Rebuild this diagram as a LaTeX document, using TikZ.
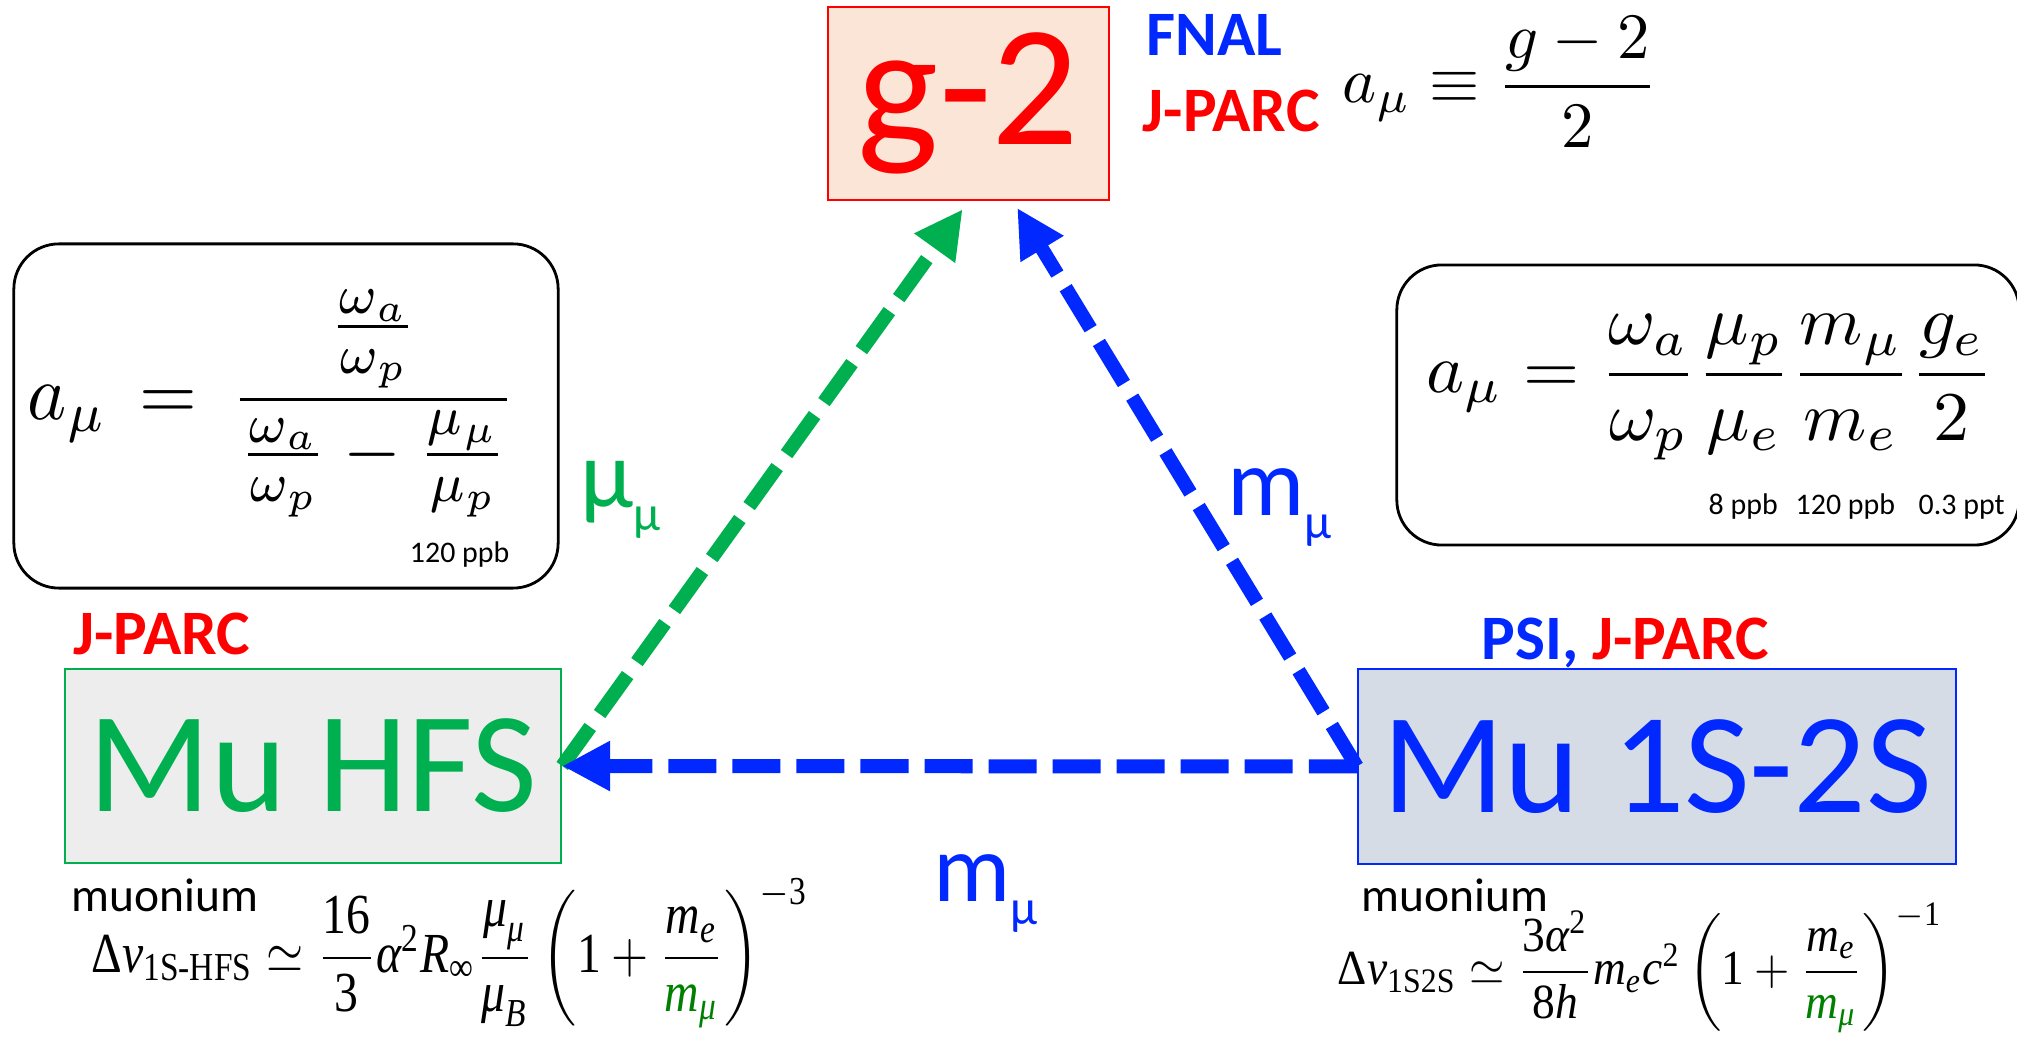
\documentclass[tikz,border=0pt]{standalone}
\usepackage{amsmath,amssymb}
\usepackage[no-math]{fontspec}
\setmainfont{Carlito}
\newfontfamily\tms{Liberation Serif}
\usepackage{tikz}
\usetikzlibrary{arrows.meta,positioning,calc}
\definecolor{gtwofill}{RGB}{251,229,214}
\definecolor{hfsfill}{RGB}{237,237,237}
\definecolor{lsfill}{RGB}{214,220,229}
\definecolor{mgreen}{RGB}{0,176,80}
\definecolor{mblue}{RGB}{0,40,255}
\definecolor{mred}{RGB}{255,0,0}
\definecolor{fgreen}{RGB}{0,128,0}
\newcommand{\tmi}[1]{\text{\tms\itshape #1}}
\newcommand{\tmr}[1]{\text{\tms\upshape #1}}
\newcommand{\lsub}[1]{\raisebox{-6.5pt}{\fontsize{14}{14}\selectfont #1}}
\tikzset{
  basebox/.style={rectangle,inner sep=0pt,align=center},
  g2box/.style={basebox,draw=mred,line width=0.6pt,fill=gtwofill,text=mred,minimum width=2.81cm,minimum height=1.93cm,font=\fontsize{49}{50}\selectfont},
  hfsbox/.style={basebox,draw=mgreen,line width=0.6pt,fill=hfsfill,text=mgreen,minimum width=4.96cm,minimum height=1.94cm,font=\fontsize{40.7}{42}\selectfont},
  lsbox/.style={basebox,draw=mblue,line width=0.6pt,fill=lsfill,text=mblue,minimum width=5.98cm,minimum height=1.95cm,font=\fontsize{40.7}{42}\selectfont},
  eqbox/.style={basebox,draw=black,line width=0.8pt,rounded corners=0.45cm},
  orglabel/.style={inner sep=0pt,font=\fontsize{18}{20}\selectfont\bfseries},
  ppblabel/.style={inner sep=0pt,anchor=base west,font=\fontsize{8.5}{10}\selectfont},
  mulabel/.style={inner sep=0pt,anchor=base west,font=\fontsize{13.5}{15}\selectfont},
  qlabel/.style={inner sep=0pt,anchor=base west,font=\fontsize{27.5}{28}\selectfont},
  greenarr/.style={-{Triangle[length=0.48cm,width=0.47cm]},line width=0.14cm,color=mgreen,dash pattern=on 0.48cm off 0.16cm},
  bluearr/.style={-{Triangle[length=0.48cm,width=0.47cm]},line width=0.14cm,color=mblue,dash pattern=on 0.48cm off 0.16cm}
}
\begin{document}
\begin{tikzpicture}[x=0.01cm,y=-0.01cm]
  \useasboundingbox (0,0) rectangle (2017,1037);

  \node[g2box] (g2) at (968.5,103.5) {g-2};
  \node[orglabel,text=mblue,anchor=base west] (fnal) at ([xshift=0.36cm,yshift=-0.5cm]g2.north east) {FNAL};
  \node[orglabel,text=mred,anchor=base west] (jparcT) at ([xshift=-0.04cm,yshift=-0.76cm]fnal.base west) {J-PARC};
  \node[basebox] (aeq) at (1500,82) {\resizebox*{3.15cm}{1.3cm}{$a_\mu\equiv\dfrac{g-2}{2}$}};

  \node[eqbox,minimum width=5.44cm,minimum height=3.44cm] (lbox) at (286,416) {};
  \node[basebox] (leq) at (272,403.5)
      {\resizebox*{4.88cm}{2.27cm}{$\displaystyle a_\mu\,=\,\frac{\frac{\omega_a}{\omega_p}}{\frac{\omega_a}{\omega_p}-\frac{\mu_\mu}{\mu_p}}$}};
  \node[ppblabel,anchor=base east] (ppbL) at (510,563) {120 ppb};

  \node[eqbox,minimum width=6.22cm,minimum height=2.8cm] (rbox) at (1708,405) {};
  \node[basebox] (req) at (1710,387.5)
      {\resizebox*{5.66cm}{1.45cm}{$a_\mu=\dfrac{\omega_a}{\omega_p}\dfrac{\mu_p}{\mu_e}\dfrac{m_\mu}{m_e}\dfrac{g_e}{2}$}};
  \node[ppblabel] (ppbA) at (1708,515) {8 ppb};
  \node[ppblabel] (ppbB) at (1795,515) {120 ppb};
  \node[ppblabel] (ppbC) at (1918,515) {0.3 ppt};

  \node[hfsbox] (hfs) at (313,766) {Mu HFS};
  \node[orglabel,text=mred,above right=0.12cm and 0.09cm of hfs.north west] (jparcL) {J-PARC};
  \node[lsbox] (ls) at (1657,766.5) {Mu 1S-2S};
  \node[orglabel,anchor=base west] (psi) at ([xshift=1.24cm,yshift=0.08cm]ls.north west)
      {\textcolor{mblue}{PSI,} \textcolor{mred}{J-PARC}};

  \node[mulabel] (muL) at ([xshift=0.07cm,yshift=-0.47cm]hfs.south west) {muonium};
  \node[mulabel] (muR) at ([xshift=0.04cm,yshift=-0.46cm]ls.south west) {muonium};
  \node[basebox] (hfseq) at (450,953)
      {\resizebox*{7.16cm}{1.5cm}{$\tmr{Δ}\tmi{ν}_{\tmr{1S-HFS}}\simeq\dfrac{\tmr{16}}{\tmr{3}}\tmi{α}^{\tmr{2}}\tmi{R}_{\tmr{∞}}\dfrac{\tmi{μ}_{\tmi{μ}}}{\tmi{μ}_{\tmi{B}}}\left(\tmr{1}+\dfrac{\tmi{m}_{\tmi{e}}}{\textcolor{fgreen}{\tmi{m}_{\tmi{μ}}}}\right)^{-\tmr{3}}$}};
  \node[basebox] (lseq) at (1640,968)
      {\resizebox*{6.04cm}{1.3cm}{$\tmr{Δ}\tmi{ν}_{\tmr{1S2S}}\simeq\dfrac{\tmr{3}\tmi{α}^{\tmr{2}}}{\tmr{8}\tmi{h}}\tmi{m}_{\tmi{e}}\tmi{c}^{\tmr{2}}\left(\tmr{1}+\dfrac{\tmi{m}_{\tmi{e}}}{\textcolor{fgreen}{\tmi{m}_{\tmi{μ}}}}\right)^{-\tmr{1}}$}};

  \node[qlabel,text=mgreen] (lblmu) at (580,508) {μ\lsub{μ}};
  \node[qlabel,text=mblue] (lblmr) at (1227,516) {m\lsub{μ}};
  \node[qlabel,text=mblue] (lblmb) at (933,902) {m\lsub{μ}};

  \draw[greenarr,shorten >=0.1cm] (hfs.east) -- (g2.south);
  \draw[bluearr,shorten >=0.08cm] (ls.west) -- ([xshift=0.445cm]g2.south);
  \draw[bluearr] (ls.west) -- (hfs.east);
\end{tikzpicture}
\end{document}
